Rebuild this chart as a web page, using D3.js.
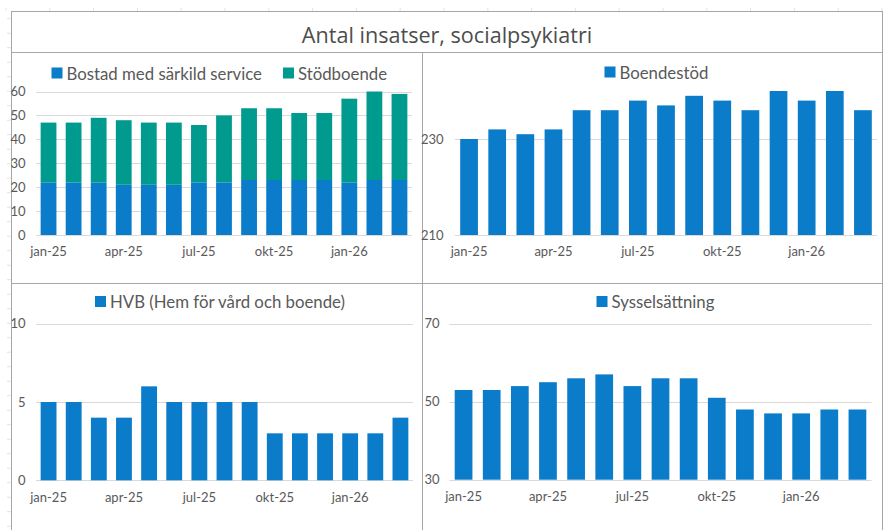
<!DOCTYPE html>
<html>
<head>
<meta charset="utf-8">
<script src="https://cdn.jsdelivr.net/npm/d3@7"></script>
<style>
  html, body { margin: 0; padding: 0; background: #ffffff; }
  svg { display: block; }
  text { font-family: Lato, "Open Sans", sans-serif; }
</style>
</head>
<body>
<svg id="chart" width="884" height="530"></svg>
<script>
// ---------- data ----------
const months = ["jan-25","feb-25","mar-25","apr-25","maj-25","jun-25","jul-25","aug-25","sep-25","okt-25","nov-25","dec-25","jan-26","feb-26","mar-26"];
const shownMonths = ["jan-25","apr-25","jul-25","okt-25","jan-26"];
const bostad     = [22,22,22,21,21,21,22,22,23,23,23,23,22,23,23];
const stodboende = [25,25,27,27,26,26,24,28,30,30,28,28,35,37,36];
const boendestod = [230,232,231,232,236,236,238,237,239,238,236,240,238,240,236];
const hvb        = [5,5,4,4,6,5,5,5,5,3,3,3,3,3,4];
const syssel     = [53,53,54,55,56,57,54,56,56,51,48,47,47,48,48];
const ticksTL = [0,10,20,30,40,50,60];
const ticksTR = [210,230];
const ticksBL = [0,5,10];
const ticksBR = [30,50,70];
const title = "Antal insatser, socialpsykiatri";

// ---------- styles ----------
const BLUE = "#0A7CCA";
const TEAL = "#009B8E";
const GRID = "#D9D9D9";
const TXT = "#595959";
const FRAME = "#A6A6A6";

const svg = d3.select("#chart");

// faint spreadsheet cell marks
const deco = svg.append("g");
for (let x = 6; x < 884; x += 43.8) {
  deco.append("line").attr("x1", x).attr("x2", x).attr("y1", 8).attr("y2", 11)
    .attr("stroke", "#E3E3E3").attr("stroke-width", 1);
}
for (let y = 18.7; y < 530; y += 14.5) {
  deco.append("line").attr("x1", 7).attr("x2", 11).attr("y1", y).attr("y2", y)
    .attr("stroke", "#E3E3E3").attr("stroke-width", 1);
}

// frame
const frame = svg.append("g").attr("stroke", FRAME).attr("stroke-width", 1).attr("fill", "none");
frame.append("rect").attr("x", 11.5).attr("y", 11.5).attr("width", 871).attr("height", 530);
frame.append("line").attr("x1", 11.5).attr("x2", 882.5).attr("y1", 52.5).attr("y2", 52.5);
frame.append("line").attr("x1", 11.5).attr("x2", 882.5).attr("y1", 283.5).attr("y2", 283.5);
frame.append("line").attr("x1", 422.5).attr("x2", 422.5).attr("y1", 52.5).attr("y2", 530);

svg.append("text")
  .attr("x", 447).attr("y", 34)
  .attr("text-anchor", "middle").attr("dominant-baseline", "central")
  .attr("fill", "#4D4D4D").attr("font-size", 21.6).attr("font-weight", 400)
  .style("font-family", "'Open Sans', Lato, sans-serif")
  .text(title);

function drawPanel(cfg) {
  const g = svg.append("g");
  const x = d3.scaleBand().domain(months).range([cfg.x0, cfg.x1])
    .paddingInner(0.37).paddingOuter(0.185);
  const y = d3.scaleLinear().domain(cfg.domain).range([cfg.yb, cfg.yt]);

  // grid
  g.append("g").selectAll("line").data(cfg.ticks).join("line")
    .attr("x1", cfg.x0).attr("x2", cfg.x1)
    .attr("y1", d => Math.round(y(d)) + 0.5).attr("y2", d => Math.round(y(d)) + 0.5)
    .attr("stroke", GRID).attr("stroke-width", 1);

  // y labels
  const yAxis = d3.axisLeft(y).tickValues(cfg.ticks).tickSize(0).tickPadding(0);
  const ya = g.append("g").attr("transform", `translate(${cfg.ylabX},0)`).call(yAxis);
  ya.select(".domain").remove();
  ya.selectAll("text").attr("fill", TXT).attr("font-size", 13)
    .style("font-family", "Lato, sans-serif");

  // bars (stacked: each series sits on the previous; otherwise from axis minimum)
  let base = months.map(() => cfg.domain[0]);
  cfg.series.forEach(s => {
    const lo = base.slice();
    const hi = cfg.stack ? lo.map((v, i) => v + s.values[i]) : s.values.slice();
    g.append("g").selectAll("rect").data(months).join("rect")
      .attr("x", d => x(d))
      .attr("width", x.bandwidth())
      .attr("y", (d, i) => y(hi[i]))
      .attr("height", (d, i) => y(lo[i]) - y(hi[i]))
      .attr("fill", s.color);
    if (cfg.stack) base = hi;
  });

  // x labels
  const xAxis = d3.axisBottom(x).tickValues(shownMonths).tickSize(0).tickPadding(0);
  const xa = g.append("g").attr("transform", `translate(0,${cfg.xlabY})`).call(xAxis);
  xa.select(".domain").remove();
  xa.selectAll("text").attr("fill", TXT).attr("font-size", 13)
    .attr("dy", null).attr("dominant-baseline", "central")
    .style("font-family", "Lato, sans-serif");

  // legend
  const lg = g.append("g");
  cfg.legend.forEach(l => {
    lg.append("rect").attr("x", l.x).attr("y", cfg.legY - 5.5).attr("width", 11).attr("height", 11)
      .attr("fill", l.color);
    lg.append("text").attr("x", l.x + 15).attr("y", cfg.legY)
      .attr("dominant-baseline", "central").attr("fill", TXT).attr("font-size", 16.8)
      .text(l.name);
  });
}

drawPanel({
  x0: 36, x1: 412, yb: 235, yt: 91.5, domain: [0, 60], ticks: ticksTL, ylabX: 25.5,
  stack: true, xlabY: 251, legY: 73,
  series: [{values: bostad, color: BLUE}, {values: stodboende, color: TEAL}],
  legend: [{x: 51.5, name: "Bostad med särkild service", color: BLUE},
           {x: 283, name: "Stödboende", color: TEAL}]
});

drawPanel({
  x0: 455, x1: 877, yb: 235, yt: 139, domain: [210, 230], ticks: ticksTR, ylabX: 443.5,
  stack: false, xlabY: 251, legY: 72,
  series: [{values: boendestod, color: BLUE}],
  legend: [{x: 604.5, name: "Boendestöd", color: BLUE}]
});

drawPanel({
  x0: 36, x1: 413, yb: 480.3, yt: 323.7, domain: [0, 10], ticks: ticksBL, ylabX: 25.5,
  stack: false, xlabY: 496.5, legY: 301.5,
  series: [{values: hvb, color: BLUE}],
  legend: [{x: 95, name: "HVB (Hem för vård och boende)", color: BLUE}]
});

drawPanel({
  x0: 449.5, x1: 871.5, yb: 479.7, yt: 323.7, domain: [30, 70], ticks: ticksBR, ylabX: 439.5,
  stack: false, xlabY: 496, legY: 301.5,
  series: [{values: syssel, color: BLUE}],
  legend: [{x: 596.5, name: "Sysselsättning", color: BLUE}]
});
</script>
</body>
</html>
